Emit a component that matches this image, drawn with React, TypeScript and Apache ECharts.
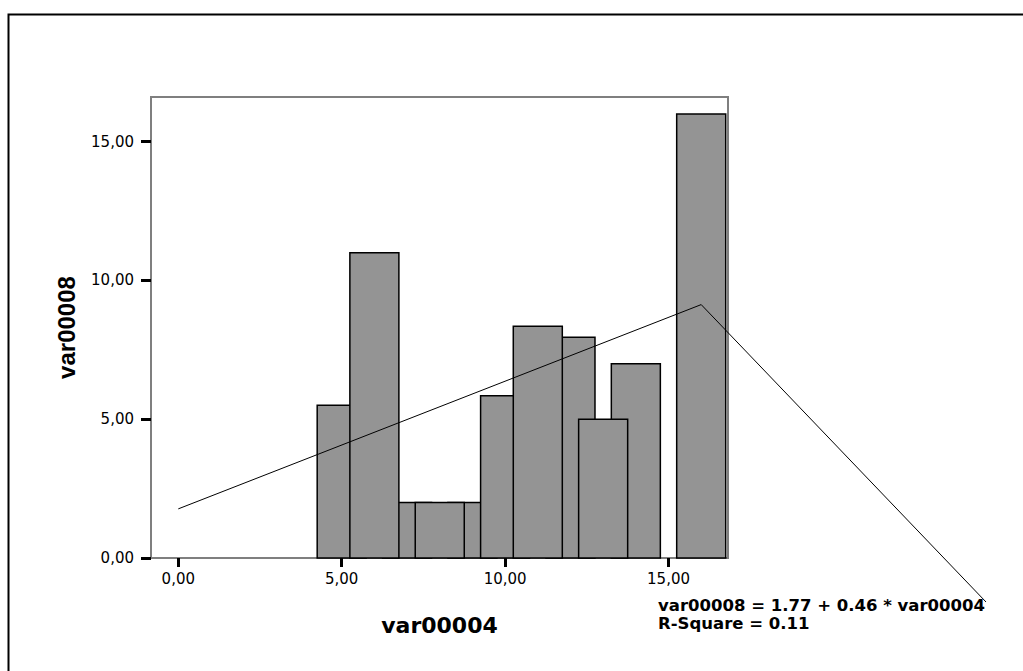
import React, { useEffect, useRef } from "react";
import * as echarts from "echarts";

// Bars in drawing order (later bars overlap earlier ones)
const barX = [5, 7, 9, 12, 14, 6, 8, 10, 11, 13, 16];
const barY = [5.5, 2, 2, 7.95, 7, 11, 2, 5.85, 8.35, 5, 16];
const barWidth = 1.5;

// Regression fit line end points
const fitLine = [
  [0, 1.77],
  [16, 9.13],
];

const xTicks = [0, 5, 10, 15];
const yTicks = [0, 5, 10, 15];

const xTitle = "var00004";
const yTitle = "var00008";
const equationLines = ["var00008 = 1.77 + 0.46 * var00004", "R-Square = 0.11"];

const fmt = (v: number) => v.toFixed(2).replace(".", ",");

export default function App() {
  const ref = useRef<HTMLDivElement>(null);

  useEffect(() => {
    if (!ref.current) return;
    const chart = echarts.init(ref.current, undefined, { renderer: "svg" });
    const axisGray = "#7f7f7f";
    const labelFont = { color: "#000", fontFamily: "DejaVu Sans", fontSize: 15 };

    chart.setOption({
      animation: false,
      backgroundColor: "#fff",
      grid: {
        left: 151,
        top: 97,
        width: 577,
        height: 461,
        show: true,
        borderColor: axisGray,
        borderWidth: 2,
      },
      xAxis: {
        type: "value",
        min: -0.835,
        max: 16.82,
        name: xTitle,
        nameLocation: "middle",
        nameGap: 56,
        nameTextStyle: { fontFamily: "DejaVu Sans", fontWeight: "bold", fontSize: 22, color: "#000" },
        axisLine: { show: true, onZero: false, lineStyle: { color: axisGray, width: 2 } },
        axisTick: { show: true, customValues: xTicks, length: 9, lineStyle: { color: "#000", width: 3 } },
        axisLabel: { customValues: xTicks, formatter: fmt, margin: 13, ...labelFont },
        splitLine: { show: false },
      },
      yAxis: {
        type: "value",
        min: 0,
        max: 16.61,
        name: yTitle,
        nameLocation: "middle",
        nameGap: 73,
        nameTextStyle: {
          fontFamily: "'Liberation Sans Narrow', 'Liberation Sans', sans-serif",
          fontWeight: "bold",
          fontSize: 24,
          color: "#000",
        },
        axisLine: { show: true, onZero: false, lineStyle: { color: axisGray, width: 2 } },
        axisTick: { show: true, customValues: yTicks, length: 10, lineStyle: { color: "#000", width: 3 } },
        axisLabel: { customValues: yTicks, formatter: fmt, margin: 17, ...labelFont },
        splitLine: { show: false },
      },
      series: [
        {
          type: "custom",
          data: barX.map((x, i) => [x, barY[i]]),
          encode: { x: 0, y: 1 },
          renderItem: (params: any, api: any) => {
            const x = api.value(0);
            const y = api.value(1);
            const p1 = api.coord([x - barWidth / 2, y]);
            const p0 = api.coord([x + barWidth / 2, 0]);
            return {
              type: "rect",
              shape: { x: p1[0], y: p1[1], width: p0[0] - p1[0], height: p0[1] - p1[1] },
              style: { fill: "#949494", stroke: "#000", lineWidth: 1.5 },
            };
          },
        },
        {
          type: "line",
          data: fitLine,
          symbol: "none",
          lineStyle: { color: "#000", width: 1 },
          z: 5,
        },
      ],
    });

    const start = chart.convertToPixel({ gridIndex: 0 }, fitLine[1]) as number[];
    const eqStyle = {
      fontFamily: "DejaVu Sans",
      fontWeight: "bold",
      fontSize: 16.5,
      fill: "#000",
    };
    chart.setOption({
      graphic: [
        {
          type: "rect",
          left: 6,
          top: 12,
          shape: { width: 1100, height: 700 },
          style: { fill: "none", stroke: "#000", lineWidth: 2 },
          silent: true,
        },
        {
          type: "line",
          shape: { x1: start[0], y1: start[1], x2: 986, y2: 602 },
          style: { stroke: "#000", lineWidth: 1 },
          z: 10,
        },
        {
          type: "text",
          left: 658,
          top: 597,
          style: { text: equationLines[0], ...eqStyle },
        },
        {
          type: "text",
          left: 658,
          top: 615,
          style: { text: equationLines[1], ...eqStyle },
        },
      ],
    });

    return () => chart.dispose();
  }, []);

  return (
    <div
      ref={ref}
      style={{ position: "fixed", left: 0, top: 0, width: 1023, height: 671 }}
    />
  );
}
